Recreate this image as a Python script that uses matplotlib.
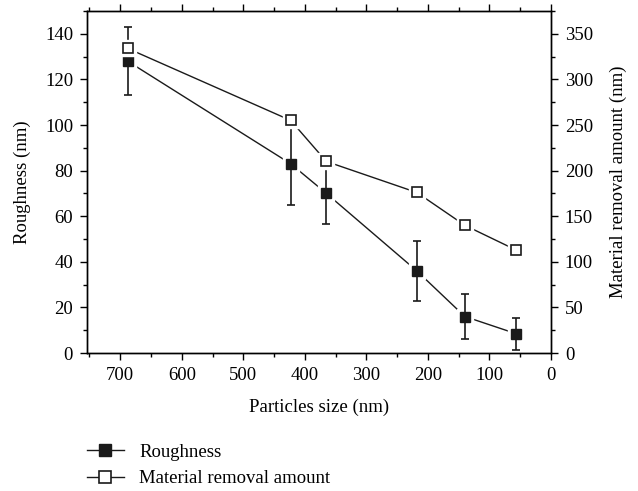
import matplotlib
matplotlib.use("Agg")
import matplotlib.pyplot as plt
from matplotlib.lines import Line2D
from matplotlib.ticker import MultipleLocator

plt.rcParams['font.family'] = ['Liberation Serif', 'DejaVu Serif']
plt.rcParams['font.size'] = 13.5

# values
particle_size = [688, 423, 365, 218, 140, 57]
roughness = [128, 83, 70, 36, 16, 8.5]
roughness_err = [15, 18, 13.5, 13, 10, 7]
removal = [334, 255, 210, 176, 140, 113]

ink = '#1a1a1a'

fig = plt.figure(figsize=(6.38, 4.91), dpi=100)
ax = fig.add_axes([87 / 638, 1 - 353 / 491, 464 / 638, 342 / 491])
ax2 = ax.twinx()

# connecting lines, then white halos so the lines stop short of the markers
ax.plot(particle_size, roughness, color=ink, lw=1, zorder=1)
ax2.plot(particle_size, removal, color=ink, lw=1, zorder=1)
ax.plot(particle_size, roughness, ls='none', marker='s', markersize=11,
        color='white', zorder=2)
ax2.plot(particle_size, removal, ls='none', marker='s', markersize=11,
         color='white', zorder=2)

ax.errorbar(particle_size, roughness, yerr=roughness_err, fmt='none',
            ecolor=ink, elinewidth=1.2, capsize=3, capthick=1.2, zorder=3)
ax.plot(particle_size, roughness, ls='none', marker='s', markersize=7,
        markerfacecolor=ink, markeredgecolor=ink, zorder=4)
ax2.plot(particle_size, removal, ls='none', marker='s', markersize=7,
         markerfacecolor='white', markeredgecolor=ink, mew=1.2, zorder=4)

ax.set_xlim(754, 0)
ax.set_ylim(0, 150)
ax2.set_ylim(0, 375)

ax.xaxis.set_major_locator(MultipleLocator(100))
ax.xaxis.set_minor_locator(MultipleLocator(50))
ax.yaxis.set_major_locator(MultipleLocator(20))
ax.yaxis.set_minor_locator(MultipleLocator(10))
ax2.yaxis.set_major_locator(MultipleLocator(50))
ax2.yaxis.set_minor_locator(MultipleLocator(25))

ax.tick_params(which='both', direction='out', top=True, labeltop=False)
ax.tick_params(which='major', length=5, width=1, pad=5)
ax.tick_params(which='minor', length=3, width=1)
ax2.tick_params(which='major', direction='out', length=5, width=1, pad=5)
ax2.tick_params(which='minor', direction='out', length=3, width=1)

for a in (ax, ax2):
    for s in a.spines.values():
        s.set_linewidth(1)

ax.set_xlabel('Particles size (nm)', labelpad=11)
ax.set_ylabel('Roughness (nm)', labelpad=10)
ax2.set_ylabel('Material removal amount (nm)', labelpad=12)

h1 = Line2D([], [], color=ink, lw=1, marker='s', markersize=8,
            markerfacecolor=ink, markeredgecolor=ink)
h2 = Line2D([], [], color=ink, lw=1, marker='s', markersize=8,
            markerfacecolor='white', markeredgecolor=ink, mew=1.2)
fig.legend([h1, h2], ['Roughness', 'Material removal amount'],
           loc='upper left', bbox_to_anchor=(79 / 638, 1 - 436 / 491),
           frameon=False, handlelength=2.0, handletextpad=0.8,
           labelspacing=0.5, borderaxespad=0)

fig.savefig('out.png', dpi=100)
